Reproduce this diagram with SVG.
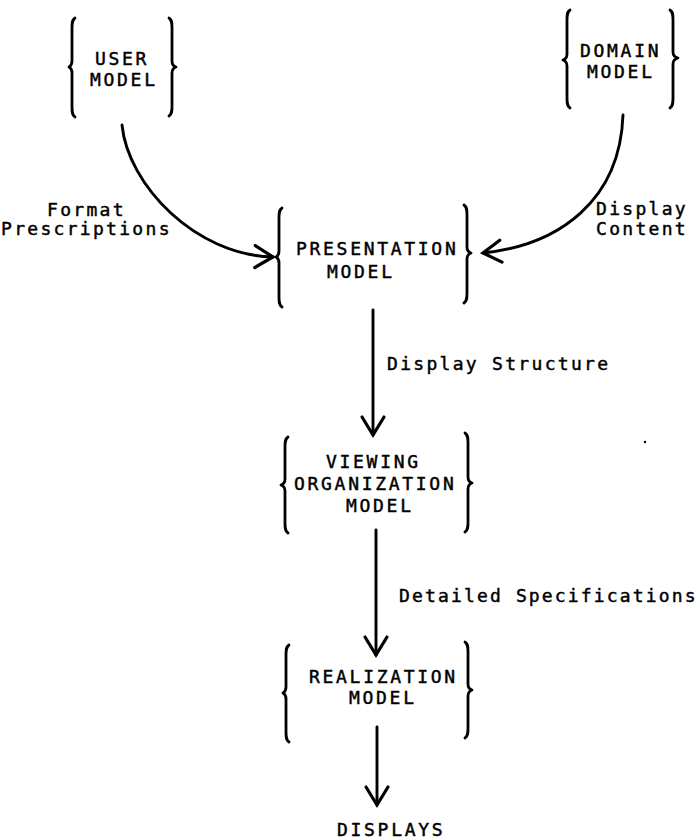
<svg xmlns="http://www.w3.org/2000/svg" width="699" height="840" viewBox="0 0 699 840">
  <style>
    .brace { fill: none; stroke: #000; stroke-width: 2.8; stroke-linecap: round; stroke-linejoin: round; }
    .edge { fill: none; stroke: #000; stroke-width: 2.9; stroke-linecap: round; }
    .node-text { font-family: "DejaVu Sans Mono", "Liberation Mono", monospace; font-size: 18px; letter-spacing: 2.7px; fill: #000; stroke: #000; stroke-width: 0.45px; }
    .label { font-family: "DejaVu Sans Mono", "Liberation Mono", monospace; font-size: 18px; letter-spacing: 2.3px; fill: #000; stroke: #000; stroke-width: 0.45px; }
  </style>
  <defs>
    <marker id="vhead" markerUnits="userSpaceOnUse" markerWidth="30" markerHeight="30" viewBox="-22 -15 26 30" refX="0" refY="0" orient="auto">
      <path d="M-18,-11 L0,0 L-18,11" fill="none" stroke="#000" stroke-width="3.2" stroke-linecap="round" stroke-linejoin="miter"/>
    </marker>
  </defs>
  <rect width="699" height="840" fill="#fff"/>

  <!-- connectors and their labels -->
  <g id="connectors">
    <path class="edge" d="M122,125 C128,185 195,255 273,257" marker-end="url(#vhead)"/>
    <path class="edge" d="M623,115 C620,200 560,245 483,253" marker-end="url(#vhead)"/>
    <path class="edge" d="M373,310 L373,435" marker-end="url(#vhead)"/>
    <path class="edge" d="M376,530 L376,655" marker-end="url(#vhead)"/>
    <path class="edge" d="M377,727 L377,805" marker-end="url(#vhead)"/>
    <text class="label" x="47" y="216">Format</text>
    <text class="label" x="1" y="235">Prescriptions</text>
    <text class="label" x="596" y="215">Display</text>
    <text class="label" x="596" y="235">Content</text>
    <text class="label" x="387" y="370">Display Structure</text>
    <text class="label" x="399" y="602" style="letter-spacing:2.15px">Detailed Specifications</text>
  </g>

  <g id="user-model">
    <path class="brace" d="M75,18 C72,20 72,23 72,28 L72,61 C72,64 71,66 69,67 C71,68 72,70 72,73 L72,107 C72,112 72,115 75,117"/>
    <path class="brace" d="M169,18 C172,20 172,23 172,28 L172,61 C172,64 173,66 176,67 C173,68 172,70 172,73 L172,106 C172,111 172,114 169,116"/>
    <text class="node-text" x="95" y="65">USER</text>
    <text class="node-text" x="90" y="86">MODEL</text>
  </g>

  <g id="domain-model">
    <path class="brace" d="M570,10 C567,12 567,15 567,20 L567,54 C567,57 566,59 563,60 C566,61 567,63 567,66 L567,98 C567,103 567,106 570,108"/>
    <path class="brace" d="M670,10 C673,12 673,15 673,20 L673,52 C673,55 674,57 678,58 C674,59 673,61 673,64 L673,98 C673,103 673,106 670,108"/>
    <text class="node-text" x="580" y="57">DOMAIN</text>
    <text class="node-text" x="587" y="78">MODEL</text>
  </g>

  <g id="presentation-model">
    <path class="brace" d="M282,208 C279,210 279,213 279,218 L279,251 C279,254 278,256 276,257 C278,258 279,260 279,263 L279,297 C279,302 279,305 282,307"/>
    <path class="brace" d="M464,205 C467,207 467,210 467,215 L467,247 C467,250 468,252 471,253 C468,254 467,256 467,259 L467,293 C467,298 467,301 464,303"/>
    <text class="node-text" x="296" y="255">PRESENTATION</text>
    <text class="node-text" x="327" y="278">MODEL</text>
  </g>

  <g id="viewing-organization-model">
    <path class="brace" d="M288,437 C285,439 285,442 285,447 L285,479 C285,482 284,484 281,485 C284,486 285,488 285,491 L285,523 C285,528 285,531 288,533"/>
    <path class="brace" d="M465,433 C468,435 468,438 468,443 L468,477 C468,480 469,482 472,483 C469,484 468,486 468,489 L468,522 C468,527 468,530 465,532"/>
    <text class="node-text" x="326" y="468">VIEWING</text>
    <text class="node-text" x="294" y="490">ORGANIZATION</text>
    <text class="node-text" x="346" y="512">MODEL</text>
  </g>

  <g id="realization-model">
    <path class="brace" d="M289,645 C286,647 286,650 286,655 L286,687 C286,690 285,692 283,693 C285,694 286,696 286,699 L286,732 C286,737 286,740 289,742"/>
    <path class="brace" d="M465,642 C468,644 468,647 468,652 L468,684 C468,687 469,689 472,690 C469,691 468,693 468,696 L468,728 C468,733 468,736 465,738"/>
    <text class="node-text" x="309" y="683">REALIZATION</text>
    <text class="node-text" x="349" y="704">MODEL</text>
  </g>

  <g id="displays">
    <text class="node-text" x="337" y="836">DISPLAYS</text>
  </g>

  <circle cx="645" cy="442" r="1.2" fill="#000"/>
</svg>
